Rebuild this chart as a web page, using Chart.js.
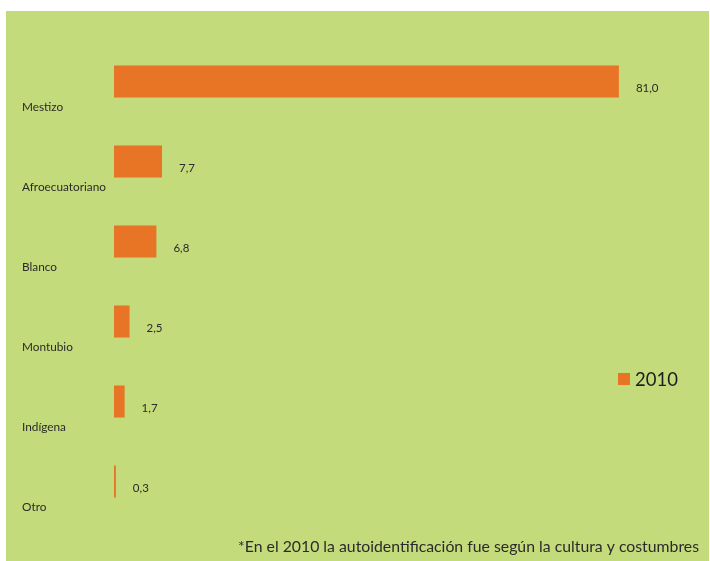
<!DOCTYPE html>
<html>
<head>
<meta charset="utf-8">
<script src="https://cdn.jsdelivr.net/npm/chart.js@4"></script>
<style>
  body { margin: 0; background: #fff; }
  #wrap { width: 710px; height: 561px; }
</style>
</head>
<body>
<div id="wrap"><canvas id="groupChart"></canvas></div>
<script>
const categories = ['Mestizo', 'Afroecuatoriano', 'Blanco', 'Montubio', 'Indígena', 'Otro'];
const values2010 = [81.0, 7.7, 6.8, 2.5, 1.7, 0.3];
const seriesLabel = '2010';
const footnote = '*En el 2010 la autoidentificación fue según la cultura y costumbres';

const GREEN = '#c3db7a';
const ORANGE = '#e87426';
const FONT = 'Lato, "Open Sans", sans-serif';

// green panel behind everything
const panelBg = {
  id: 'panelBg',
  beforeDraw(chart) {
    const ctx = chart.ctx;
    ctx.save();
    ctx.fillStyle = GREEN;
    ctx.fillRect(6, 11, 703, 550);
    ctx.restore();
  }
};

// value labels, legend and footnote
const extras = {
  id: 'extras',
  afterDatasetsDraw(chart) {
    const ctx = chart.ctx;
    const meta = chart.getDatasetMeta(0);
    ctx.save();
    ctx.fillStyle = '#2b2b2b';
    ctx.font = '11.5px ' + FONT;
    ctx.textBaseline = 'middle';
    meta.data.forEach((bar, i) => {
      const txt = values2010[i].toFixed(1).replace('.', ',');
      ctx.fillText(txt, bar.x + 17, bar.y + 7);
    });

    // legend
    ctx.fillStyle = ORANGE;
    ctx.fillRect(618, 373, 12, 12);
    ctx.fillStyle = '#1e1e1e';
    ctx.font = '18.5px ' + FONT;
    ctx.textBaseline = 'alphabetic';
    ctx.fillText(chart.data.datasets[0].label, 635, 386);

    // footnote
    ctx.fillStyle = '#2b2b2b';
    ctx.font = '15.8px ' + FONT;
    ctx.textAlign = 'right';
    ctx.fillText(footnote, 699, 552);
    ctx.restore();
  }
};

new Chart(document.getElementById('groupChart'), {
  type: 'bar',
  data: {
    labels: categories,
    datasets: [{
      label: seriesLabel,
      data: values2010,
      backgroundColor: ORANGE,
      barPercentage: 0.4,
      categoryPercentage: 1
    }]
  },
  options: {
    indexAxis: 'y',
    responsive: true,
    maintainAspectRatio: false,
    animation: false,
    layout: { padding: { top: 41.5, bottom: 39.5, left: 22, right: 35 } },
    plugins: {
      legend: { display: false },
      tooltip: { enabled: false }
    },
    scales: {
      x: {
        display: false,
        min: 0,
        max: 90
      },
      y: {
        grid: { display: false },
        border: { display: false },
        afterFit(scale) { scale.width = 92; },
        ticks: {
          crossAlign: 'far',
          labelOffset: 26,
          color: '#2b2b2b',
          font: { family: FONT, size: 11.8 }
        }
      }
    }
  },
  plugins: [panelBg, extras]
});
</script>
</body>
</html>
